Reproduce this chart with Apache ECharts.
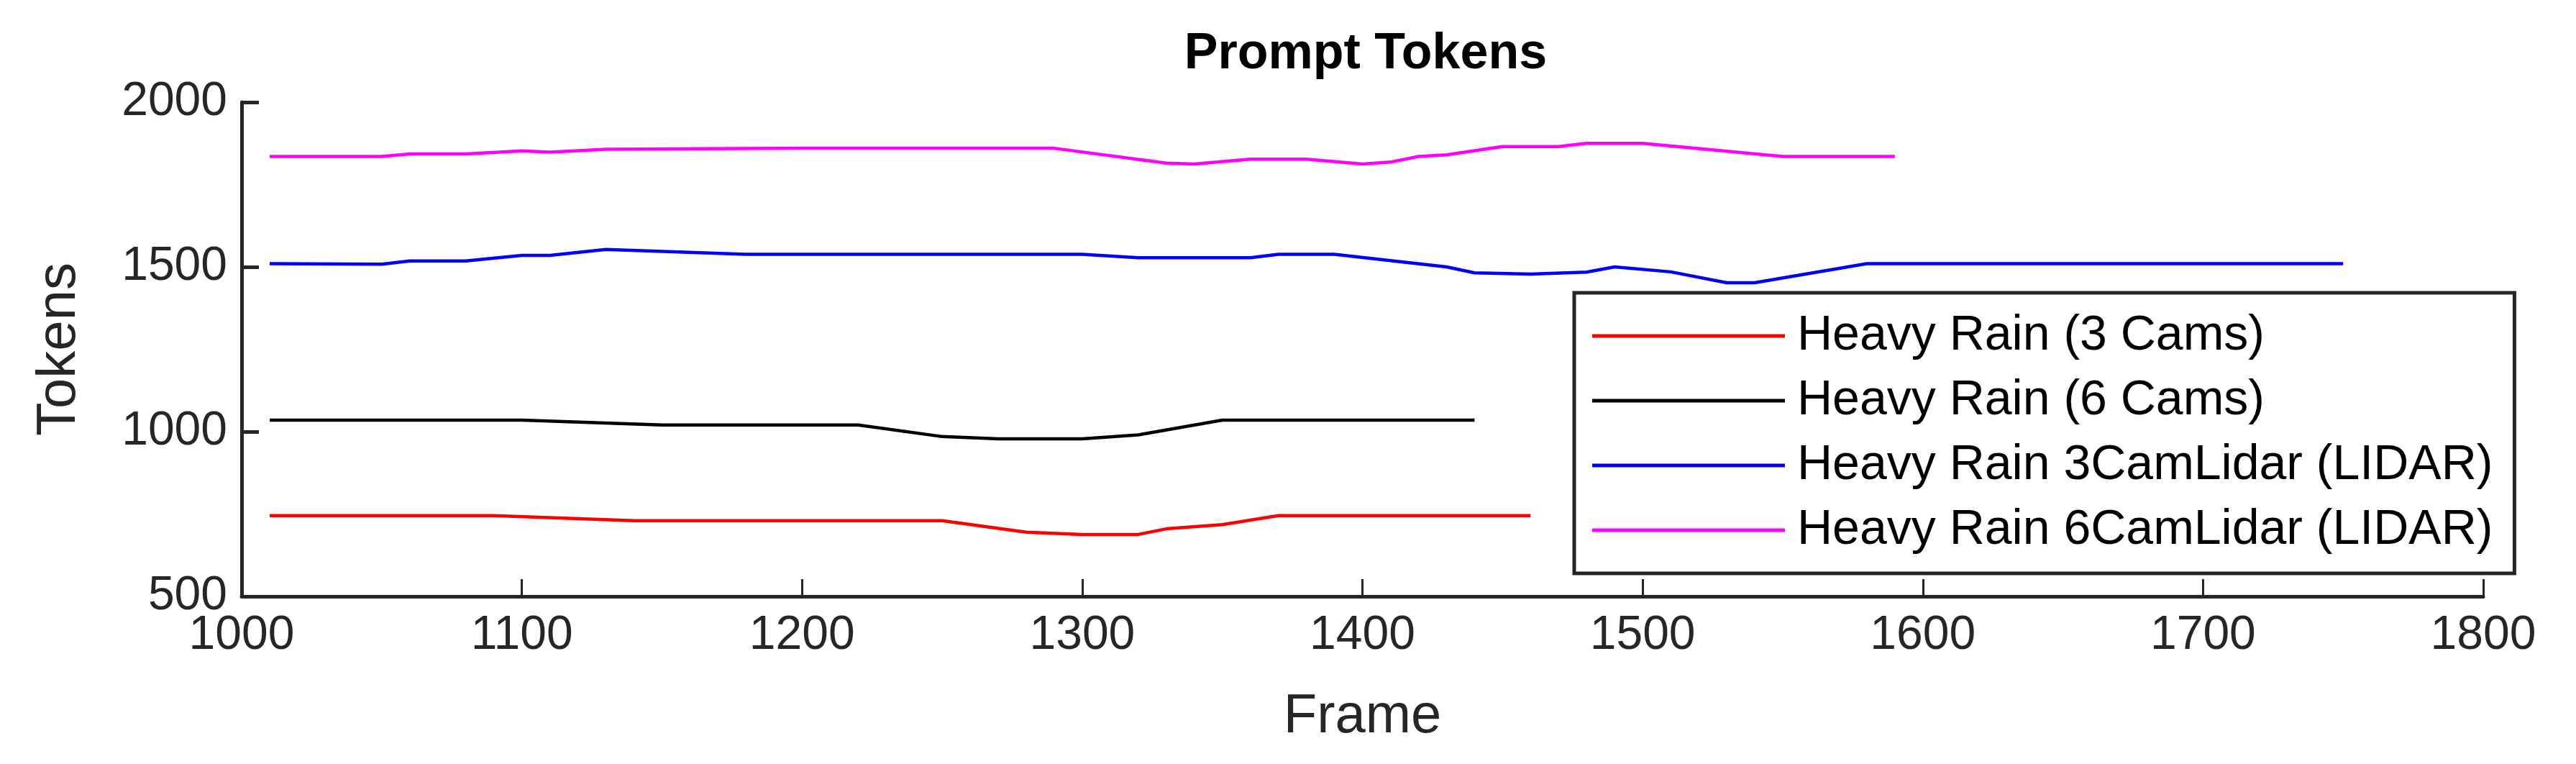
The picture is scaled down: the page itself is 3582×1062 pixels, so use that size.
<!DOCTYPE html>
<html><head><meta charset="utf-8">
<script src="https://cdn.jsdelivr.net/npm/echarts@6/dist/echarts.min.js"></script>
<style>html,body{margin:0;padding:0;background:#fff}#c{width:3582px;height:1062px}</style>
</head><body><div id="c"></div>
<script>
const seriesNames = ['Heavy Rain (3 Cams)','Heavy Rain (6 Cams)','Heavy Rain 3CamLidar (LIDAR)','Heavy Rain 6CamLidar (LIDAR)'];
const colors = ['#ff0000','#000000','#0000ff','#ff00ff'];
const red = [[1010,745],[1090,745],[1140,730],[1250,730],[1280,695],[1300,688],[1320,688],[1330,705],[1350,718],[1370,745],[1460,745]];
const black = [[1010,1035],[1100,1035],[1150,1020],[1220,1020],[1250,985],[1270,978],[1300,978],[1320,990],[1350,1035],[1440,1035]];
const blue = [[1010,1510],[1050,1508],[1060,1518],[1080,1518],[1100,1535],[1110,1535],[1130,1553],[1180,1538],[1300,1538],[1320,1528],[1360,1528],[1370,1538],[1390,1538],[1430,1500],[1440,1482],[1460,1478],[1480,1484],[1490,1500],[1510,1485],[1530,1452],[1540,1452],[1580,1510],[1750,1510]];
const magenta = [[1010,1835],[1050,1835],[1060,1843],[1080,1843],[1100,1852],[1110,1848],[1130,1857],[1200,1860],[1290,1860],[1330,1815],[1340,1812],[1360,1827],[1380,1827],[1400,1812],[1410,1818],[1420,1835],[1430,1840],[1450,1865],[1470,1865],[1480,1875],[1500,1875],[1550,1835],[1590,1835]];
const allData = [red, black, blue, magenta];
const F = 'Liberation Sans, Arial, sans-serif';
const axisCol = '#262626';
const chart = echarts.init(document.getElementById('c'));
chart.setOption({
  animation:false,
  title:{text:'Prompt Tokens',left:1894,top:36,textAlign:'center',textStyle:{fontFamily:F,fontSize:70,fontWeight:'bold',color:'#000'}},
  grid:{left:336,right:129,top:142,bottom:233},
  legend:{left:2189,top:407,orient:'vertical',backgroundColor:'#fff',borderColor:axisCol,borderWidth:5,borderRadius:0,
    padding:[26,30,26,25],itemWidth:268,itemHeight:5,itemGap:22,icon:'rect',
    textStyle:{fontFamily:F,fontSize:68,lineHeight:60,color:'#000',padding:[0,0,0,12]},data:seriesNames},
  xAxis:{type:'value',min:1000,max:1800,interval:100,name:'Frame',nameLocation:'middle',nameGap:130,
    nameTextStyle:{fontFamily:F,fontSize:76,color:axisCol},
    axisLine:{lineStyle:{color:axisCol,width:5}},axisTick:{inside:true,length:24,lineStyle:{color:axisCol,width:3}},
    axisLabel:{fontFamily:F,fontSize:66,color:axisCol,margin:22,formatter:v=>String(v)},splitLine:{show:false}},
  yAxis:{type:'value',min:500,max:2000,interval:500,name:'Tokens',nameLocation:'middle',nameGap:215,
    nameTextStyle:{fontFamily:F,fontSize:76,color:axisCol},
    axisLine:{show:true,lineStyle:{color:axisCol,width:5}},axisTick:{show:true,inside:true,length:24,lineStyle:{color:axisCol,width:5}},
    axisLabel:{fontFamily:F,fontSize:66,color:axisCol,margin:20,formatter:v=>String(v)},splitLine:{show:false}},
  series: allData.map((d,i)=>({name:seriesNames[i],type:'line',data:d,showSymbol:false,symbol:'none',
    lineStyle:{color:colors[i],width:4.5},itemStyle:{color:colors[i]}}))
});
</script></body></html>
